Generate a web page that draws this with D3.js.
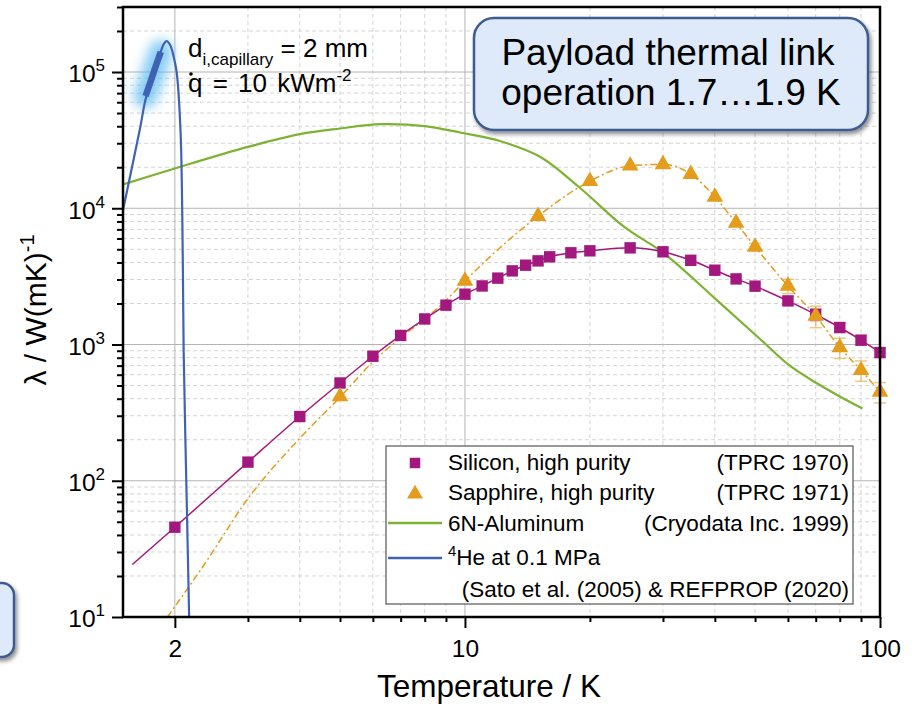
<!DOCTYPE html>
<html>
<head>
<meta charset="utf-8">
<script src="https://d3js.org/d3.v7.min.js"></script>
<style>
  body { margin: 0; background: #fff; }
  svg { font-family: "Liberation Sans", Arial, sans-serif; }
  .grid-major { stroke: #b4b4b4; stroke-width: 1; }
  .grid-minor { stroke: #d4d4d4; stroke-width: 1; stroke-dasharray: 4,3; }
  .axis path { display: none; }
  .axis line { stroke: #000; stroke-width: 2; }
  .axis text { fill: #000; font-size: 24.5px; }
</style>
</head>
<body>
<svg width="914" height="706"></svg>
<script>
// Silicon, high purity (TPRC 1970)
var siT = [2, 3, 4, 5, 6, 7, 8, 9, 10, 11, 12, 13, 14, 15, 16, 18, 20, 25, 30, 35, 40, 45, 50, 60, 70, 80, 90, 100];
var siK = [45.6, 137, 296, 522, 820, 1165, 1540, 1944, 2340, 2690, 3070, 3470, 3820, 4110, 4400, 4710, 4870, 5120, 4790, 4150, 3510, 3030, 2680, 2090, 1660, 1333, 1076, 873];
var siErr = [0, 0, 0, 0, 0, 0, 0, 0, 0, 0, 0, 0, 0, 0, 0, 0, 0, 0, 0, 0, 0, 0, 0, 0.07, 0.1, 0.08, 0.08, 0.08];
// fit line of silicon, starts below the first point
var siFitT = [1.58, 2, 3, 4, 5, 6, 7, 8, 9, 10, 11, 12, 13, 14, 15, 16, 18, 20, 25, 30, 35, 40, 45, 50, 60, 70, 80, 90, 100];
var siFitK = [24.3, 45.6, 137, 296, 522, 820, 1165, 1540, 1944, 2340, 2690, 3070, 3470, 3820, 4110, 4400, 4710, 4870, 5120, 4790, 4150, 3510, 3030, 2680, 2090, 1660, 1333, 1076, 873];

// Sapphire, high purity (TPRC 1971)
var saT = [5, 10, 15, 20, 25, 30, 35, 40, 45, 50, 60, 70, 80, 90, 100];
var saK = [415, 2930, 8750, 15800, 20500, 21000, 17800, 12100, 7810, 5210, 2690, 1620, 951, 647, 449];
var saErr = [0, 0, 0, 0, 0, 0, 0, 0, 0, 0.06, 0.12, 0.18, 0.17, 0.17, 0.17];
var saFitT = [1.92, 2.37, 3, 4, 5, 6, 7, 8, 9, 10, 15, 20, 25, 30, 35, 40, 45, 50, 60, 70, 80, 90, 100];
var saFitK = [10, 25, 74, 205, 410, 745, 1120, 1540, 2110, 2930, 8750, 15800, 20500, 21000, 17800, 12100, 7810, 5210, 2690, 1620, 951, 647, 449];

// 6N-Aluminum (Cryodata Inc. 1999)
var alT = [1.5, 2, 3, 4, 5, 6.27, 8, 9.8, 12.2, 15.2, 19, 24.2, 30.2, 40.5, 50.7, 60.4, 70.6, 80.4, 90.7];
var alK = [14960, 19600, 28200, 35000, 38500, 41400, 40100, 35800, 31000, 23800, 13960, 7290, 4650, 2110, 1140, 705, 517, 412, 339];

// 4He at 0.1 MPa (Sato et al. 2005 & REFPROP 2020)
var heT = [1.5, 1.55, 1.6, 1.65, 1.7, 1.75, 1.8, 1.85, 1.88, 1.91, 1.95, 2.0, 2.02, 2.065, 2.09, 2.1, 2.14, 2.165];
var heK = [9700, 15600, 24800, 39000, 63000, 83600, 109000, 141000, 160000, 168700, 157000, 118000, 100000, 35400, 4200, 900, 55, 10];
// operating window highlighted on the helium curve
var opT = [1.7, 1.75, 1.8, 1.85];
var opK = [66500, 86000, 111000, 140600];

var xMajor = [2, 10, 100];
var xMinor = [3, 4, 5, 6, 7, 8, 9, 20, 30, 40, 50, 60, 70, 80, 90];
var yMajor = [10, 100, 1000, 10000, 100000];
var yMinor = [];
[10, 100, 1000, 10000, 100000].forEach(function(d) {
  for (var m = 2; m <= 9; m++) if (d * m <= 3e5) yMinor.push(d * m);
});

var colSi = "#a3187e", colSa = "#e39c1c", colAl = "#7db232", colHe = "#3f63b2";

var svg = d3.select("svg");
var L = 123, R = 880, T = 7, B = 617;

var x = d3.scaleLog().domain([1.5, 100]).range([L, R]);
var y = d3.scaleLog().domain([10, 3e5]).range([B, T]);

var defs = svg.append("defs");
defs.append("clipPath").attr("id", "plot")
  .append("rect").attr("x", L).attr("y", T).attr("width", R - L).attr("height", B - T);
var glow = defs.append("filter").attr("id", "glow")
  .attr("x", "-150%").attr("y", "-100%").attr("width", "400%").attr("height", "300%");
glow.append("feGaussianBlur").attr("stdDeviation", 6);
var shadow = defs.append("filter").attr("id", "shadow")
  .attr("x", "-10%").attr("y", "-10%").attr("width", "130%").attr("height", "140%");
shadow.append("feDropShadow").attr("dx", 2).attr("dy", 3).attr("stdDeviation", 2)
  .attr("flood-color", "#000").attr("flood-opacity", 0.45);

// grid
var grid = svg.append("g");
grid.selectAll(".gxm").data(xMinor).enter().append("line").attr("class", "grid-minor")
  .attr("x1", d => x(d)).attr("x2", d => x(d)).attr("y1", T).attr("y2", B);
grid.selectAll(".gym").data(yMinor).enter().append("line").attr("class", "grid-minor")
  .attr("x1", L).attr("x2", R).attr("y1", d => y(d)).attr("y2", d => y(d));
grid.selectAll(".gxM").data([2, 10]).enter().append("line").attr("class", "grid-major")
  .attr("x1", d => x(d)).attr("x2", d => x(d)).attr("y1", T).attr("y2", B);
grid.selectAll(".gyM").data([100, 1000, 10000, 100000]).enter().append("line").attr("class", "grid-major")
  .attr("x1", L).attr("x2", R).attr("y1", d => y(d)).attr("y2", d => y(d));

// axes
svg.append("g").attr("class", "axis").attr("transform", "translate(0," + B + ")")
  .call(d3.axisBottom(x).tickValues(xMinor).tickSize(5).tickFormat(""));
svg.append("g").attr("class", "axis").attr("transform", "translate(0," + B + ")")
  .call(d3.axisBottom(x).tickValues(xMajor).tickSize(11).tickPadding(12).tickFormat(d3.format("d")));
svg.append("g").attr("class", "axis").attr("transform", "translate(" + L + ",0)")
  .call(d3.axisLeft(y).tickValues(yMinor).tickSize(6).tickFormat(""));
var yAx = svg.append("g").attr("class", "axis").attr("transform", "translate(" + L + ",0)")
  .call(d3.axisLeft(y).tickValues(yMajor).tickSize(11).tickPadding(7).tickFormat(""));
yAx.selectAll(".tick text").attr("dy", "0.4em").each(function(d) {
  var t = d3.select(this);
  t.append("tspan").text("10");
  t.append("tspan").attr("dy", -11).attr("font-size", 17).text(Math.round(Math.log10(d)));
});

var line = d3.line().x(d => x(d[0])).y(d => y(d[1])).curve(d3.curveMonotoneX);
var smooth = d3.line().x(d => x(d[0])).y(d => y(d[1])).curve(d3.curveCatmullRom);
var plot = svg.append("g").attr("clip-path", "url(#plot)");

// aluminum
plot.append("path").attr("d", smooth(d3.zip(alT, alK)))
  .attr("fill", "none").attr("stroke", colAl).attr("stroke-width", 2.2);

// sapphire fit and silicon fit
plot.append("path").attr("d", line(d3.zip(saFitT, saFitK)))
  .attr("fill", "none").attr("stroke", colSa).attr("stroke-width", 1.5)
  .attr("stroke-dasharray", "7,3,2,3");
plot.append("path").attr("d", line(d3.zip(siFitT, siFitK)))
  .attr("fill", "none").attr("stroke", colSi).attr("stroke-width", 1.5);

// helium
plot.append("path").attr("d", line(d3.zip(opT, opK)))
  .attr("fill", "none").attr("stroke", "#56b8f2").attr("stroke-width", 24)
  .attr("stroke-linecap", "round").attr("opacity", 0.7).attr("filter", "url(#glow)");
plot.append("path").attr("d", smooth(d3.zip(heT, heK)))
  .attr("fill", "none").attr("stroke", colHe).attr("stroke-width", 2.2);
plot.append("path").attr("d", line(d3.zip(opT, opK)))
  .attr("fill", "none").attr("stroke", colHe).attr("stroke-width", 6.5);

// error bars
function errBars(T_, K_, E_, col) {
  var data = d3.zip(T_, K_, E_).filter(d => d[2] > 0);
  var g = svg.append("g").attr("stroke", col).attr("stroke-width", 1.5).attr("opacity", 0.75);
  data.forEach(function(d) {
    var cx = x(d[0]), y1 = y(d[1] * (1 + d[2])), y2 = y(d[1] * (1 - d[2]));
    g.append("line").attr("x1", cx).attr("x2", cx).attr("y1", y1).attr("y2", y2);
    g.append("line").attr("x1", cx - 6).attr("x2", cx + 6).attr("y1", y1).attr("y2", y1);
    g.append("line").attr("x1", cx - 6).attr("x2", cx + 6).attr("y1", y2).attr("y2", y2);
  });
}
errBars(saT, saK, saErr, "#eab35a");
errBars(siT, siK, siErr, "#c870b0");

// markers
var sq = d3.symbol().type(d3.symbolSquare).size(130);
var tri = d3.symbol().type(d3.symbolTriangle).size(120);
svg.append("g").selectAll("path").data(d3.zip(siT, siK)).enter().append("path")
  .attr("d", sq).attr("fill", colSi)
  .attr("transform", d => "translate(" + x(d[0]) + "," + y(d[1]) + ")");
svg.append("g").selectAll("path").data(d3.zip(saT, saK)).enter().append("path")
  .attr("d", tri).attr("fill", colSa)
  .attr("transform", d => "translate(" + x(d[0]) + "," + y(d[1]) + ")");

// frame
svg.append("rect").attr("x", L).attr("y", T).attr("width", R - L).attr("height", B - T)
  .attr("fill", "none").attr("stroke", "#000").attr("stroke-width", 2.5);

// axis titles
svg.append("text").attr("x", 489).attr("y", 697).attr("text-anchor", "middle")
  .attr("font-size", 31.5).text("Temperature / K");
var yl = svg.append("text").attr("transform", "translate(46,310) rotate(-90)")
  .attr("text-anchor", "middle").attr("font-size", 30);
yl.append("tspan").text("λ / W(mK)");
yl.append("tspan").attr("dy", -12).attr("font-size", 20).text("-1");

// annotation
var a1 = svg.append("text").attr("x", 188).attr("y", 57).attr("font-size", 26);
a1.append("tspan").text("d");
a1.append("tspan").attr("dy", 8).attr("font-size", 17).text("i,capillary");
a1.append("tspan").attr("dy", -8).text(" = 2 mm");
var a2 = svg.append("text").attr("x", 188).attr("y", 92).attr("font-size", 26).attr("word-spacing", 3);
a2.append("tspan").text("q = 10 kWm");
a2.append("tspan").attr("dy", -11).attr("font-size", 17).text("-2");
svg.append("circle").attr("cx", 191).attr("cy", 74).attr("r", 1.8).attr("fill", "#000");

// title box
svg.append("rect").attr("x", 474).attr("y", 18).attr("width", 394).attr("height", 112)
  .attr("rx", 20).attr("fill", "#dee9f9").attr("stroke", "#3d5b90").attr("stroke-width", 2.5)
  .attr("filter", "url(#shadow)");
svg.append("text").attr("x", 668).attr("y", 65).attr("text-anchor", "middle")
  .attr("font-size", 37).text("Payload thermal link");
svg.append("text").attr("x", 671).attr("y", 105).attr("text-anchor", "middle")
  .attr("font-size", 37).text("operation 1.7…1.9 K");

// partial box at the left edge
svg.append("rect").attr("x", -50).attr("y", 583).attr("width", 64).attr("height", 74)
  .attr("rx", 12).attr("fill", "#dee9f9").attr("stroke", "#3d5b90").attr("stroke-width", 2.5)
  .attr("filter", "url(#shadow)");

// legend
var lg = svg.append("g").attr("font-size", 22.5);
lg.append("rect").attr("x", 386).attr("y", 446).attr("width", 467).attr("height", 158)
  .attr("fill", "#fff").attr("stroke", "#555").attr("stroke-width", 1.2);
lg.append("path").attr("d", d3.symbol().type(d3.symbolSquare).size(110))
  .attr("fill", colSi).attr("transform", "translate(415,463)");
lg.append("path").attr("d", d3.symbol().type(d3.symbolTriangle).size(110))
  .attr("fill", colSa).attr("transform", "translate(415,494)");
lg.append("line").attr("x1", 388).attr("x2", 442).attr("y1", 523).attr("y2", 523)
  .attr("stroke", colAl).attr("stroke-width", 2.5);
lg.append("line").attr("x1", 388).attr("x2", 442).attr("y1", 558).attr("y2", 558)
  .attr("stroke", colHe).attr("stroke-width", 2.5);
var leftTxt = ["Silicon, high purity", "Sapphire, high purity", "6N-Aluminum"];
var rightTxt = ["(TPRC 1970)", "(TPRC 1971)", "(Cryodata Inc. 1999)"];
var rowY = [470, 500, 531];
leftTxt.forEach(function(t, i) {
  lg.append("text").attr("x", 448).attr("y", rowY[i]).text(t);
  lg.append("text").attr("x", 849).attr("y", rowY[i]).attr("text-anchor", "end").text(rightTxt[i]);
});
var he = lg.append("text").attr("x", 448).attr("y", 565);
he.append("tspan").attr("font-size", 15).attr("dy", -9).text("4");
he.append("tspan").attr("dy", 9).text("He at 0.1 MPa");
lg.append("text").attr("x", 849).attr("y", 597).attr("text-anchor", "end")
  .text("(Sato et al. (2005) & REFPROP (2020)");
</script>
</body>
</html>
